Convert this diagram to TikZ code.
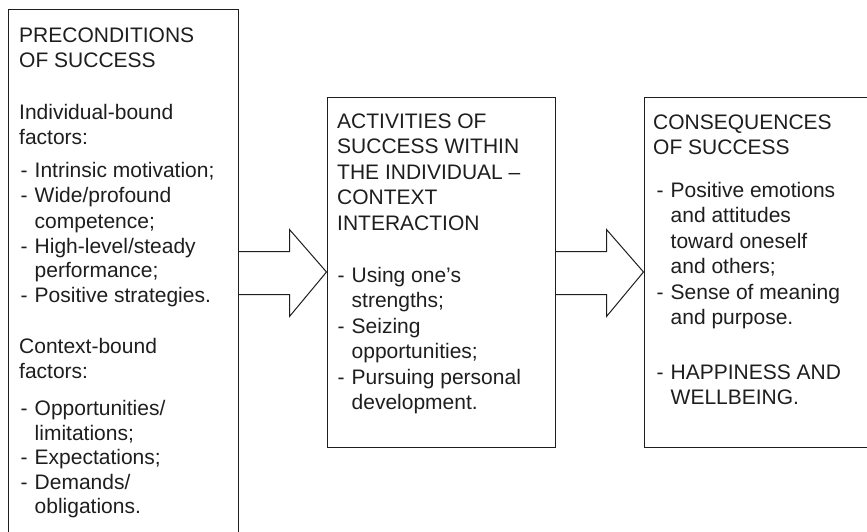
\documentclass[tikz,border=0pt]{standalone}
\usepackage{fontspec}
\setmainfont{Liberation Sans}
\usetikzlibrary{calc}
\definecolor{ink}{HTML}{1E1E1E}
\begin{document}
\begin{tikzpicture}[x=1pt,y=-1pt,
  boxstyle/.style={draw=ink, line width=1pt, inner sep=0pt, rectangle},
  txt/.style={anchor=base west, inner sep=0pt, text=ink, font=\fontsize{21}{25}\selectfont},
  arrowline/.style={draw=ink, line width=1pt, line join=miter}]
\clip (0,0) rectangle (867,531);
\fill[white] (0,0) rectangle (867,531);
% boxes
\node[boxstyle, minimum width=229.5pt, minimum height=560pt] (b1) at (123.25,289) {};
\node[boxstyle, minimum width=228pt, minimum height=350pt] (b2) at (441,272) {};
\node[boxstyle, minimum width=232pt, minimum height=350pt] (b3) at (760,272) {};
% block arrows
\coordinate (a1st) at ($(b2.west)+(-37,-20.5)$);
\coordinate (a1sb) at ($(b2.west)+(-37,22.5)$);
\coordinate (a1ht) at ($(b2.west)+(-37,-42.5)$);
\coordinate (a1hb) at ($(b2.west)+(-37,44.5)$);
\draw[arrowline] (b1.east |- a1st) -- (a1st) -- (a1ht) -- (b2.west) -- (a1hb) -- (a1sb) -- (b1.east |- a1sb);
\coordinate (a2st) at ($(b3.west)+(-37,-20.5)$);
\coordinate (a2sb) at ($(b3.west)+(-37,22.5)$);
\coordinate (a2ht) at ($(b3.west)+(-37,-42.5)$);
\coordinate (a2hb) at ($(b3.west)+(-37,44.5)$);
\draw[arrowline] (b2.east |- a2st) -- (a2st) -- (a2ht) -- (b3.west) -- (a2hb) -- (a2sb) -- (b2.east |- a2sb);
% box 1 text
\node[txt] (p1) at (19,42) {PRECONDITIONS};
\node[txt] (p2) at (19,67.5) {OF SUCCESS};
\node[txt] (p3) at (19,119) {Individual-bound};
\node[txt] (p4) at (19,144) {factors:};
\node[txt] (p5) at (20.5,177) {-};
\node[txt] (p5t) at (34.5,177) {Intrinsic motivation;};
\node[txt] (p6) at (20.5,202.5) {-};
\node[txt] (p6t) at (34.5,202.5) {Wide/profound};
\node[txt] (p7t) at (34.5,228) {competence;};
\node[txt] (p8) at (20.5,253) {-};
\node[txt] (p8t) at (34.5,253) {High-level/steady};
\node[txt] (p9t) at (34.5,277.5) {performance;};
\node[txt] (p10) at (20.5,302.5) {-};
\node[txt] (p10t) at (34.5,302.5) {Positive strategies.};
\node[txt] (p11) at (19,353) {Context-bound};
\node[txt] (p12) at (19,378) {factors:};
\node[txt] (p13) at (20.5,415) {-};
\node[txt] (p13t) at (34.5,415) {Opportunities/};
\node[txt] (p14t) at (34.5,440) {limitations;};
\node[txt] (p15) at (20.5,464.5) {-};
\node[txt] (p15t) at (34.5,464.5) {Expectations;};
\node[txt] (p16) at (20.5,489) {-};
\node[txt] (p16t) at (34.5,489) {Demands/};
\node[txt] (p17t) at (34.5,513.5) {obligations.};
% box 2 text
\node[txt] (q1) at (337,128) {ACTIVITIES OF};
\node[txt] (q2) at (337,153.5) {SUCCESS WITHIN};
\node[txt] (q3) at (337,179) {THE INDIVIDUAL --};
\node[txt] (q4) at (337,204.5) {CONTEXT};
\node[txt] (q5) at (337,230) {INTERACTION};
\node[txt] (q6) at (337.5,282) {-};
\node[txt] (q6t) at (351.5,282) {Using one’s};
\node[txt] (q7t) at (351.5,307.5) {strengths;};
\node[txt] (q8) at (337.5,333) {-};
\node[txt] (q8t) at (351.5,333) {Seizing};
\node[txt] (q9t) at (351.5,358.5) {opportunities;};
\node[txt] (q10) at (337.5,384) {-};
\node[txt] (q10t) at (351.5,384) {Pursuing personal};
\node[txt] (q11t) at (351.5,409.5) {development.};
% box 3 text
\node[txt] (r1) at (653,129) {CONSEQUENCES};
\node[txt] (r2) at (653,154.5) {OF SUCCESS};
\node[txt] (r3) at (656.5,197) {-};
\node[txt] (r3t) at (670.5,197) {Positive emotions};
\node[txt] (r4t) at (670.5,222.5) {and attitudes};
\node[txt] (r5t) at (670.5,248) {toward oneself};
\node[txt] (r6t) at (670.5,273.5) {and others;};
\node[txt] (r7) at (656.5,299) {-};
\node[txt] (r7t) at (670.5,299) {Sense of meaning};
\node[txt] (r8t) at (670.5,324.5) {and purpose.};
\node[txt] (r9) at (656.5,379) {-};
\node[txt] (r9t) at (670.5,379) {HAPPINESS AND};
\node[txt] (r10t) at (670.5,404.5) {WELLBEING.};
\end{tikzpicture}
\end{document}
